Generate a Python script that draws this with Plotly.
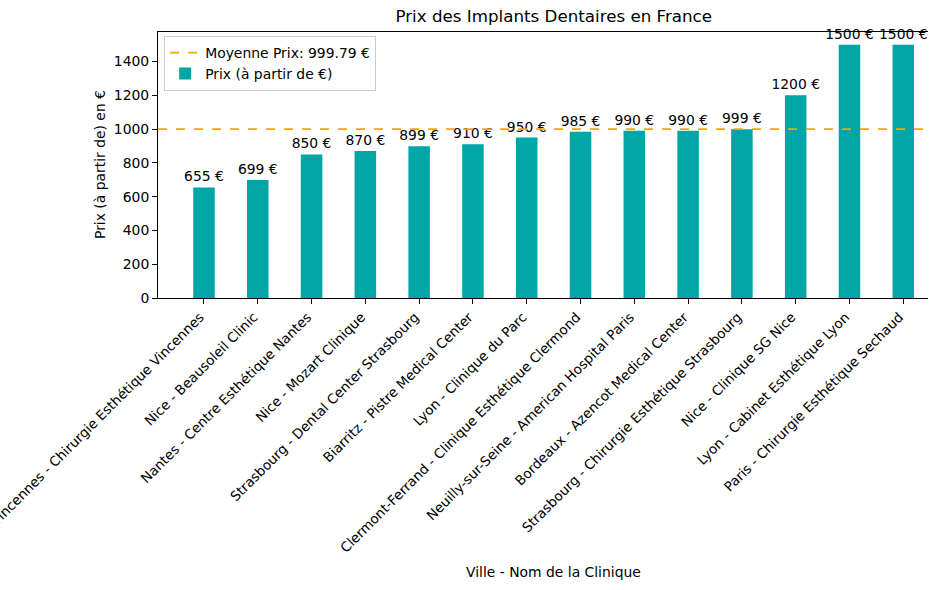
import plotly.graph_objects as go

labels = [
    "Vincennes - Chirurgie Esthétique Vincennes",
    "Nice - Beausoleil Clinic",
    "Nantes - Centre Esthétique Nantes",
    "Nice - Mozart Clinique",
    "Strasbourg - Dental Center Strasbourg",
    "Biarritz - Pistre Medical Center",
    "Lyon - Clinique du Parc",
    "Clermont-Ferrand - Clinique Esthétique Clermond",
    "Neuilly-sur-Seine - American Hospital Paris",
    "Bordeaux - Azencot Medical Center",
    "Strasbourg - Chirurgie Esthétique Strasbourg",
    "Nice - Clinique SG Nice",
    "Lyon - Cabinet Esthétique Lyon",
    "Paris - Chirurgie Esthétique Sechaud",
]
prices = [655, 699, 850, 870, 899, 910, 950, 985, 990, 990, 999, 1200, 1500, 1500]
yticks = [0, 200, 400, 600, 800, 1000, 1200, 1400]

mean_price = sum(prices) / len(prices)
xs = list(range(len(labels)))

FONT = "DejaVu Sans"
BAR = "#00a5a5"
ORANGE = "#f5a800"
FS = 13.9

fig = go.Figure()
fig.add_trace(go.Scatter(
    x=[None], y=[None], mode="lines",
    line=dict(color=ORANGE, dash="dash", width=1.7),
    name=f"Moyenne Prix: {mean_price:.2f} €",
))
fig.add_trace(go.Bar(
    x=xs, y=prices, width=0.4, marker=dict(color=BAR, line=dict(width=0)),
    name="Prix (à partir de €)",
    text=[f"{p} €" for p in prices], textposition="outside",
    constraintext="none", cliponaxis=False,
    textfont=dict(family=FONT, size=FS, color="black"),
))
fig.add_shape(type="line", xref="x domain", yref="y", x0=0, x1=1.03,
              y0=mean_price, y1=mean_price,
              line=dict(color=ORANGE, dash="dash", width=1.7))

fig.update_layout(
    width=930, height=590,
    margin=dict(l=158, r=2, t=32, b=292),
    paper_bgcolor="white", plot_bgcolor="white",
    font=dict(family=FONT, size=FS, color="black"),
    showlegend=True,
    legend=dict(x=0.008, y=0.985, xanchor="left", yanchor="top",
                bordercolor="#cccccc", borderwidth=1, bgcolor="rgba(255,255,255,0.8)",
                font=dict(family=FONT, size=FS), traceorder="normal"),
    title=dict(text="Prix des Implants Dentaires en France", x=0.514, xanchor="center",
               xref="paper", y=1, yref="container", yanchor="top", pad=dict(t=10),
               font=dict(family=FONT, size=16.7, color="black")),
    xaxis=dict(range=[-0.855, 13.46], tickvals=xs, ticktext=labels, tickangle=-45,
               tickfont=dict(family=FONT, size=13.5),
               showline=True, linecolor="black", linewidth=1, mirror=True,
               ticks="outside", ticklen=5, tickcolor="black", showgrid=False,
               zeroline=False, automargin=False, ticklabeloverflow="allow",
               ticklabelshift=-4),
    yaxis=dict(range=[0, 1575], tickvals=yticks, showline=True, linecolor="black",
               linewidth=1, ticks="outside", ticklen=5, tickcolor="black",
               showgrid=False, zeroline=False, automargin=False),
    annotations=[
        dict(text="Ville - Nom de la Clinique", xref="paper", yref="paper",
             x=0.514, y=-274/266, xanchor="center", yanchor="middle", showarrow=False,
             font=dict(family=FONT, size=FS)),
        dict(text="Prix (à partir de) en €", xref="paper", yref="paper",
             x=-58/770, y=0.5, xanchor="center", yanchor="middle", textangle=-90,
             showarrow=False, font=dict(family=FONT, size=FS)),
    ],
)

fig.write_html("out.html", config={"displayModeBar": False},
               post_script="document.body.style.margin='0';")
